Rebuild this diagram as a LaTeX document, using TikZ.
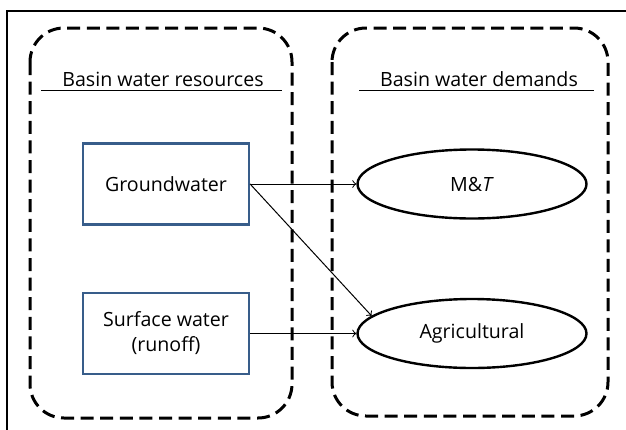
\documentclass[tikz,border=0pt]{standalone}
\usepackage{fontspec}
\setmainfont{Open Sans}
\definecolor{boxblue}{HTML}{385D8A}
\tikzset{
  region/.style={line width=1.5pt,dash pattern=on 6.5pt off 3.3pt,rounded corners=17pt},
  source/.style={draw=boxblue,line width=1.1pt,minimum width=83pt,minimum height=40.5pt,align=center},
  demand/.style={draw,ellipse,line width=1.2pt,minimum width=114.5pt,minimum height=34.5pt},
  flow/.style={->,line width=0.5pt}
}
\usetikzlibrary{shapes.geometric}
\begin{document}
\begin{tikzpicture}[x=0.5pt,y=-0.5pt,font=\fontsize{9.8}{12.5}\selectfont]
  \useasboundingbox (0,0) rectangle (626,429);
  % outer frame, only top and left edges are seen
  \draw[line width=1pt] (7,445) -- (7,11) -- (645,11);
  % the two groups
  \draw[region] (30,28) rectangle (292,418);
  \draw[region] (332,28) rectangle (608,416);
  \node[anchor=base] (restitle) at (163,86) {Basin water resources};
  \draw[line width=0.5pt] (41,90) -- (282,90);
  \node[anchor=base] (demtitle) at (479,86) {Basin water demands};
  \draw[line width=0.5pt] (359,90) -- (594,90);
  % resources
  \node[source] (gw) at (166,184) {Groundwater};
  \node[source] (sw) at (166,333.5) {Surface water\\(runoff)};
  % demands
  \node[demand] (mt) at (472,184) {M\&\textit{T}};
  \node[demand] (ag) at (472,333.5) {Agricultural};
  % flows
  \draw[flow] (gw.east) -- (mt.west);
  \draw[flow] (gw.east) -- (ag.170);
  \draw[flow] (sw.east) -- (ag.west);
\end{tikzpicture}
\end{document}
